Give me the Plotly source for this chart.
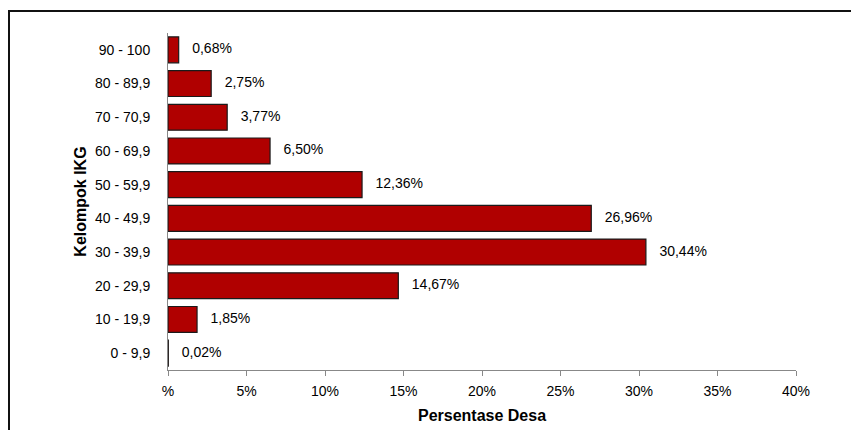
import plotly.graph_objects as go

categories = ["0 - 9,9", "10 - 19,9", "20 - 29,9", "30 - 39,9", "40 - 49,9",
              "50 - 59,9", "60 - 69,9", "70 - 70,9", "80 - 89,9", "90 - 100"]
values = [0.02, 1.85, 14.67, 30.44, 26.96, 12.36, 6.50, 3.77, 2.75, 0.68]
tick_vals = [0, 5, 10, 15, 20, 25, 30, 35, 40]
tick_text = ["%", "5%", "10%", "15%", "20%", "25%", "30%", "35%", "40%"]

FONT = "Liberation Sans, Arial, sans-serif"

W, H = 851, 422
ML, MR, MT, MB = 160, 63, 25, 60
PW, PH = W - ML - MR, H - MT - MB

fig = go.Figure()
fig.add_trace(go.Bar(
    y=categories, x=values, orientation="h",
    marker=dict(color="#B00000", line=dict(color="#1a1a1a", width=1.2)),
    width=0.77, hoverinfo="skip", showlegend=False,
))
fig.add_trace(go.Scatter(
    y=categories, x=values, mode="markers+text",
    marker=dict(size=20, opacity=0),
    texttemplate="%{x:.2f}%", textposition="middle right",
    textfont=dict(family=FONT, size=14, color="#000"),
    hoverinfo="skip", showlegend=False,
))

fig.update_layout(
    width=W, height=H,
    margin=dict(l=ML, r=MR, t=MT, b=MB),
    paper_bgcolor="white", plot_bgcolor="white",
    separators=",.",
    font=dict(family=FONT, size=14, color="#000"),
    xaxis=dict(range=[0, 40], tickvals=tick_vals, ticktext=tick_text,
               automargin=False,
               showgrid=False, zeroline=False, showline=True, linecolor="#888",
               linewidth=1, ticks="outside", ticklen=5, tickcolor="#888",
               ticklabelstandoff=3,
               tickfont=dict(family=FONT, size=14, color="#000"),
               title=dict(text="<b>Persentase Desa</b>", font=dict(family=FONT, size=16, color="#000"), standoff=12)),
    yaxis=dict(type="category", categoryorder="array", categoryarray=categories,
               range=[-0.5, 9.5], automargin=False,
               showgrid=False, zeroline=False, showline=True, linecolor="#888",
               linewidth=1, ticks="", ticklabelstandoff=14,
               tickfont=dict(family=FONT, size=14, color="#000"),
               title=dict(text="<b>Kelompok IKG</b>", font=dict(family=FONT, size=16, color="#000"), standoff=4)),
)

fig.add_shape(type="rect", xref="paper", yref="paper",
              x0=(1 - ML) / PW, x1=1.2, y0=-0.3, y1=1 + (MT - 3) / PH,
              line=dict(color="#111", width=2), fillcolor="rgba(0,0,0,0)", layer="below")

fig.write_html("out.html")
